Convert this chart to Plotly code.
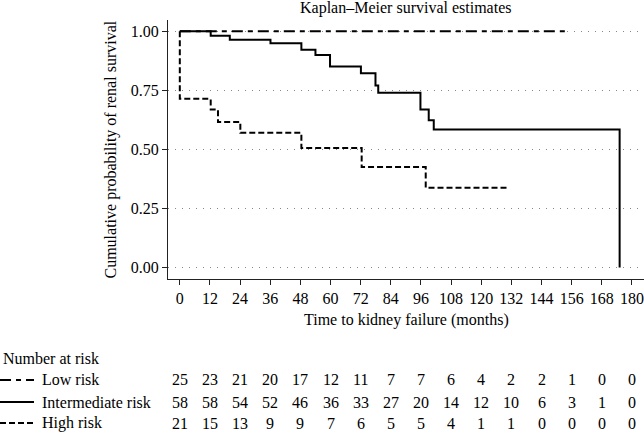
import plotly.graph_objects as go

# ---- data ----
low_t = [0, 155]
low_s = [1.0, 1.0]

inter_t = [0, 12.3, 19.9, 36.1, 48.4, 54.0, 59.8, 72.1, 77.9, 79.0, 95.8, 99.1, 101.1, 175.1]
inter_s = [1.0, 0.981, 0.964, 0.949, 0.922, 0.900, 0.851, 0.822, 0.771, 0.740, 0.669, 0.623, 0.584, 0.0]

high_t = [0, 0, 12.3, 15.2, 24.1, 48.4, 72.4, 97.9, 131]
high_s = [1.0, 0.714, 0.669, 0.616, 0.570, 0.506, 0.425, 0.338, 0.338]

risk_times = [0, 12, 24, 36, 48, 60, 72, 84, 96, 108, 120, 132, 144, 156, 168, 180]
risk_low = [25, 23, 21, 20, 17, 12, 11, 7, 7, 6, 4, 2, 2, 1, 0, 0]
risk_inter = [58, 58, 54, 52, 46, 36, 33, 27, 20, 14, 12, 10, 6, 3, 1, 0]
risk_high = [21, 15, 13, 9, 9, 7, 6, 5, 5, 4, 1, 1, 0, 0, 0, 0]

group_names = ["Low risk", "Intermediate risk", "High risk"]
y_ticks = [0, 0.25, 0.5, 0.75, 1.0]
y_ticklabels = ["0.00", "0.25", "0.50", "0.75", "1.00"]

# ---- layout constants ----
W, H = 644, 436
ML, MR, MT, MB = 168, 0, 20, 157
PW = W - ML - MR
PH = H - MT - MB
FONT = "Liberation Serif"
FS = 16

def px2paper_x(px):
    return (px - ML) / PW

def px2paper_y(py):
    return (H - MB - py) / PH

dash_low = "11px,5px,5px,5px"
dash_high = "6px,3px"
LW = 2

fig = go.Figure()
fig.add_trace(go.Scatter(x=low_t, y=low_s, mode="lines", line=dict(color="black", width=LW, dash=dash_low, shape="hv"), showlegend=False))
fig.add_trace(go.Scatter(x=high_t, y=high_s, mode="lines", line=dict(color="black", width=LW, dash=dash_high, shape="hv"), showlegend=False))
fig.add_trace(go.Scatter(x=inter_t, y=inter_s, mode="lines", line=dict(color="black", width=LW, shape="hv"), showlegend=False))

annotations = []
annotations.append(dict(text="Kaplan\u2013Meier survival estimates", xref="paper", yref="paper",
                        x=0.5, y=px2paper_y(8), xanchor="center", yanchor="middle", showarrow=False,
                        font=dict(family=FONT, size=FS, color="black")))
annotations.append(dict(text="Cumulative probability of renal survival", xref="paper", yref="paper",
                        x=px2paper_x(110), y=0.5, xanchor="center", yanchor="middle", textangle=-90,
                        showarrow=False, font=dict(family=FONT, size=FS, color="black")))
annotations.append(dict(text="Time to kidney failure (months)", xref="paper", yref="paper",
                        x=0.5, y=px2paper_y(320), xanchor="center", yanchor="middle", showarrow=False,
                        font=dict(family=FONT, size=FS, color="black")))
annotations.append(dict(text="Number at risk", xref="paper", yref="paper",
                        x=px2paper_x(1), y=px2paper_y(358), xanchor="left", yanchor="middle", showarrow=False,
                        font=dict(family=FONT, size=FS, color="black")))

row_y = [380, 402, 423]
row_vals = [risk_low, risk_inter, risk_high]
row_dash = [dash_low, "solid", dash_high]
shapes = []
for name, py, vals, dsh in zip(group_names, row_y, row_vals, row_dash):
    annotations.append(dict(text=name, xref="paper", yref="paper",
                            x=px2paper_x(40), y=px2paper_y(py), xanchor="left", yanchor="middle",
                            showarrow=False, font=dict(family=FONT, size=FS, color="black")))
    for t, v in zip(risk_times, vals):
        annotations.append(dict(text=str(v), xref="x", yref="paper", x=t, y=px2paper_y(py),
                                xanchor="center", yanchor="middle", showarrow=False,
                                font=dict(family=FONT, size=FS, color="black")))
    shapes.append(dict(type="line", xref="paper", yref="paper",
                       x0=px2paper_x(0), x1=px2paper_x(34), y0=px2paper_y(py), y1=px2paper_y(py),
                       line=dict(color="black", width=LW, dash=dsh)))

fig.update_layout(
    width=W, height=H,
    margin=dict(l=ML, r=MR, t=MT, b=MB),
    paper_bgcolor="white", plot_bgcolor="white",
    font=dict(family=FONT, size=FS, color="black"),
    annotations=annotations,
    shapes=shapes,
    xaxis=dict(range=[-4.7, 184.8], tickmode="array", tickvals=risk_times,
               ticktext=[str(t) for t in risk_times],
               showgrid=False, zeroline=False, showline=True, linecolor="#222", linewidth=1.3,
               ticks="outside", ticklen=5, tickcolor="#222", tickwidth=1.2,
               tickfont=dict(family=FONT, size=FS, color="black")),
    yaxis=dict(range=[-0.049, 1.048], tickmode="array", tickvals=y_ticks, ticktext=y_ticklabels,
               showgrid=True, gridcolor="#888", gridwidth=1, griddash="1px,6px",
               zeroline=False, showline=True, linecolor="#222", linewidth=1.3,
               ticks="outside", ticklen=5, tickcolor="#222", tickwidth=1.2,
               tickfont=dict(family=FONT, size=FS, color="black")),
)

fig.write_html("out.html")
